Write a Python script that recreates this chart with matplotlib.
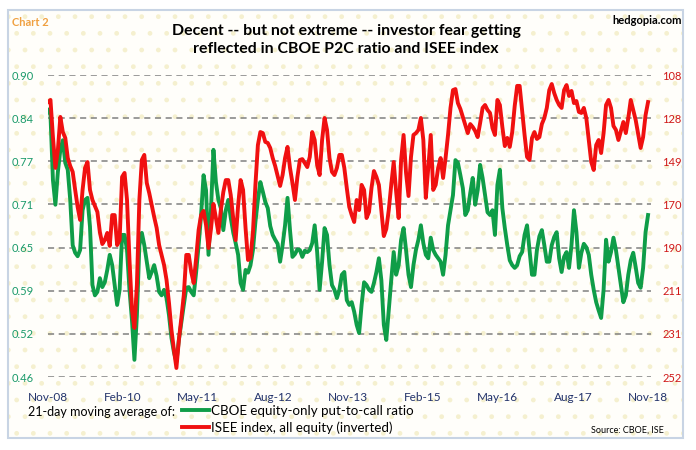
import numpy as np
import pandas as pd
import matplotlib
matplotlib.use('Agg')
import matplotlib.pyplot as plt
from matplotlib.patches import Rectangle
import matplotlib.dates as mdates

plt.rcParams['font.family'] = ['Lato', 'DejaVu Sans']
plt.rcParams['hatch.linewidth'] = 1.0

# 244 evenly spaced points, Nov-08 .. Nov-18 (21-day moving averages)
dates = pd.date_range('2008-11-01', '2018-11-01', periods=244)

# CBOE equity-only put-to-call ratio (left axis)
p2c = [0.849, 0.842, 0.747, 0.711, 0.759, 0.791, 0.805, 0.772, 0.762, 0.718,
       0.652, 0.641, 0.636, 0.645, 0.703, 0.718, 0.721, 0.679, 0.594, 0.579,
       0.584, 0.604, 0.591, 0.598, 0.616, 0.638, 0.623, 0.594, 0.565, 0.587,
       0.667, 0.667, 0.645, 0.587, 0.543, 0.485, 0.550, 0.652, 0.670, 0.652,
       0.628, 0.604, 0.613, 0.623, 0.607, 0.584, 0.579, 0.587, 0.575, 0.550,
       0.517, 0.496, 0.482, 0.514, 0.540, 0.565, 0.590, 0.591, 0.584, 0.579,
       0.613, 0.652, 0.696, 0.754, 0.732, 0.638, 0.703, 0.791, 0.744, 0.718,
       0.706, 0.674, 0.703, 0.718, 0.692, 0.671, 0.655, 0.638, 0.597, 0.587,
       0.616, 0.612, 0.623, 0.645, 0.686, 0.718, 0.744, 0.730, 0.715, 0.706,
       0.680, 0.667, 0.660, 0.654, 0.628, 0.652, 0.681, 0.721, 0.674, 0.635,
       0.639, 0.646, 0.645, 0.635, 0.644, 0.642, 0.645, 0.655, 0.681, 0.642,
       0.587, 0.628, 0.677, 0.667, 0.623, 0.594, 0.587, 0.575, 0.587, 0.609,
       0.613, 0.572, 0.565, 0.569, 0.555, 0.536, 0.524, 0.565, 0.598, 0.594,
       0.587, 0.584, 0.597, 0.613, 0.633, 0.601, 0.536, 0.514, 0.558, 0.601,
       0.642, 0.609, 0.623, 0.660, 0.677, 0.645, 0.609, 0.591, 0.623, 0.645,
       0.660, 0.681, 0.655, 0.638, 0.633, 0.663, 0.645, 0.638, 0.633, 0.628,
       0.609, 0.638, 0.681, 0.703, 0.725, 0.776, 0.772, 0.754, 0.735, 0.696,
       0.703, 0.728, 0.750, 0.711, 0.732, 0.769, 0.750, 0.725, 0.700, 0.696,
       0.703, 0.667, 0.740, 0.762, 0.706, 0.677, 0.652, 0.630, 0.623, 0.619,
       0.623, 0.636, 0.642, 0.667, 0.681, 0.645, 0.609, 0.609, 0.645, 0.665,
       0.674, 0.652, 0.628, 0.628, 0.652, 0.664, 0.671, 0.633, 0.613, 0.635,
       0.642, 0.619, 0.652, 0.703, 0.671, 0.619, 0.641, 0.654, 0.649, 0.638,
       0.609, 0.587, 0.569, 0.557, 0.546, 0.587, 0.660, 0.628, 0.642, 0.663,
       0.645, 0.619, 0.594, 0.569, 0.579, 0.609, 0.630, 0.641, 0.620, 0.597,
       0.590, 0.619, 0.671, 0.696]

# ISEE index, all equity (right axis, inverted)
isee = [120.9, 119.9, 137.6, 152.3, 143.8, 128.0, 135.2, 138.0, 147.6, 151.4,
        154.2, 162.8, 170.9, 177.1, 162.8, 152.3, 149.5, 162.8, 167.6, 170.5,
        173.3, 182.9, 188.6, 186.7, 183.3, 189.5, 174.8, 174.8, 189.1, 186.7,
        156.6, 154.7, 167.6, 196.2, 220.0, 228.6, 208.1, 167.6, 148.5, 146.1,
        159.5, 164.3, 170.0, 175.7, 180.9, 189.1, 193.8, 198.6, 205.7, 216.7,
        229.6, 239.1, 247.7, 234.4, 223.9, 212.9, 193.8, 193.8, 201.9, 207.2,
        195.3, 181.9, 174.8, 172.8, 179.5, 190.5, 181.4, 169.5, 176.2, 183.3,
        172.4, 163.8, 158.1, 158.1, 165.2, 176.2, 186.7, 170.0, 158.1, 162.8,
        180.9, 196.2, 195.3, 182.9, 160.4, 141.4, 135.2, 135.7, 139.9, 140.4,
        142.8, 147.6, 151.4, 156.2, 160.9, 155.7, 147.6, 142.3, 152.3, 159.5,
        167.6, 156.6, 148.5, 148.1, 150.0, 151.9, 147.1, 135.2, 139.0, 150.9,
        155.7, 139.0, 128.5, 134.2, 147.6, 154.2, 155.7, 152.3, 146.1, 146.1,
        152.3, 161.9, 170.9, 174.8, 178.1, 167.6, 172.4, 160.4, 162.8, 176.2,
        173.3, 161.9, 153.8, 156.6, 160.4, 172.4, 184.8, 181.4, 172.4, 160.4,
        149.5, 163.8, 176.2, 148.5, 136.6, 154.7, 165.7, 147.1, 136.6, 135.7,
        134.2, 128.5, 139.0, 166.6, 152.3, 136.6, 162.8, 160.4, 152.3, 147.6,
        157.1, 147.6, 136.6, 123.7, 115.2, 114.7, 121.4, 124.2, 128.0, 131.8,
        135.7, 131.4, 132.8, 134.7, 137.6, 130.9, 123.7, 122.3, 124.7, 126.1,
        133.3, 136.6, 119.9, 122.3, 132.8, 141.9, 138.0, 142.3, 135.2, 122.8,
        113.2, 113.2, 124.7, 136.6, 147.1, 148.5, 138.0, 135.2, 138.5, 137.6,
        131.4, 128.5, 123.7, 115.2, 112.3, 116.6, 119.9, 122.3, 123.7, 115.2,
        112.8, 118.0, 115.6, 121.4, 120.4, 125.6, 126.1, 123.7, 128.5, 139.0,
        149.5, 153.3, 141.4, 139.0, 145.2, 135.7, 122.3, 119.9, 123.7, 132.3,
        134.2, 139.0, 134.7, 130.4, 135.7, 128.5, 119.9, 124.7, 129.5, 136.1,
        142.8, 137.6, 127.1, 120.9]

left_ticks = np.linspace(0.46, 0.90, 8)
left_labels = ['0.46', '0.52', '0.59', '0.65', '0.71', '0.77', '0.84', '0.90']
right_ticks = np.linspace(108, 252, 8)
right_labels = ['108', '128', '149', '170', '190', '211', '231', '252']
x_ticks = pd.date_range('2008-11-01', '2018-11-01', freq='15MS')

green = '#0f9d48'
red = '#f01010'

fig = plt.figure(figsize=(6.96, 4.5), dpi=100)
fig.patch.set_facecolor('white')
# dotted background + light border
fig.patches.append(Rectangle((8/696, 12/450), 675/696, 428/450, transform=fig.transFigure,
                             facecolor='#fffefa', edgecolor='#f5f0cf', hatch='.', lw=0, zorder=-2))
fig.patches.append(Rectangle((8/696, 12/450), 675/696, 428/450, transform=fig.transFigure,
                             facecolor='none', edgecolor='#c8d4e4', lw=1.5, zorder=-1))

ax = fig.add_axes([48/696, 1 - 377/450, 603/696, 302/450])
ax.set_facecolor('none')
l1, = ax.plot(dates, p2c, color=green, lw=2.8, solid_joinstyle='round')
ax.set_ylim(0.46, 0.90)
ax.set_yticks(left_ticks)
ax.set_yticklabels(left_labels, color='#1a9a6a', fontsize=8)
ax.set_xlim(pd.Timestamp('2008-11-01'), pd.Timestamp('2018-11-19'))
ax.set_xticks(x_ticks)
ax.xaxis.set_major_formatter(mdates.DateFormatter('%b-%y'))
ax.tick_params(axis='x', length=0, pad=11, labelsize=8.5, labelcolor='#23336b')
ax.tick_params(axis='y', length=0, pad=10)
ax.yaxis.grid(True, color='#808080', ls=(0, (4, 3)), lw=1.1)
ax.set_axisbelow(True)
for s in ax.spines.values():
    s.set_visible(False)

ax2 = ax.twinx()
l2, = ax2.plot(dates, isee, color=red, lw=2.8, solid_joinstyle='round')
ax2.set_ylim(252, 108)
ax2.set_yticks(right_ticks)
ax2.set_yticklabels(right_labels, color='#d01818', fontsize=8)
ax2.tick_params(axis='y', length=0, pad=8)
for s in ax2.spines.values():
    s.set_visible(False)

fig.text(12/696, 1 - 23/450, 'Chart 2', color='#f0a040', fontsize=8, fontweight='bold', va='center')
fig.text(682/696, 1 - 21/450, 'hedgopia.com', color='black', fontsize=8, fontweight='bold',
         va='center', ha='right')
fig.text(346/696, 1 - 40/450, 'Decent -- but not extreme -- investor fear getting\nreflected in CBOE P2C ratio and ISEE index',
         ha='center', va='center', fontsize=11.4, fontweight='bold', linespacing=1.35)

fig.text(28/696, 1 - 412/450, '21-day moving average of:', fontsize=9, va='center')
fig.legend([l1, l2], ['CBOE equity-only put-to-call ratio', 'ISEE index, all equity (inverted)'],
           loc='upper left', bbox_to_anchor=(182/696, 1 - 405/450), frameon=False, fontsize=9.6,
           handlelength=2.0, handletextpad=0.2, labelspacing=0.3, borderaxespad=0, borderpad=0)
fig.text(664/696, 1 - 430/450, 'Source: CBOE, ISE', fontsize=6.5, ha='right', va='center')

fig.savefig('out.png', dpi=100)
